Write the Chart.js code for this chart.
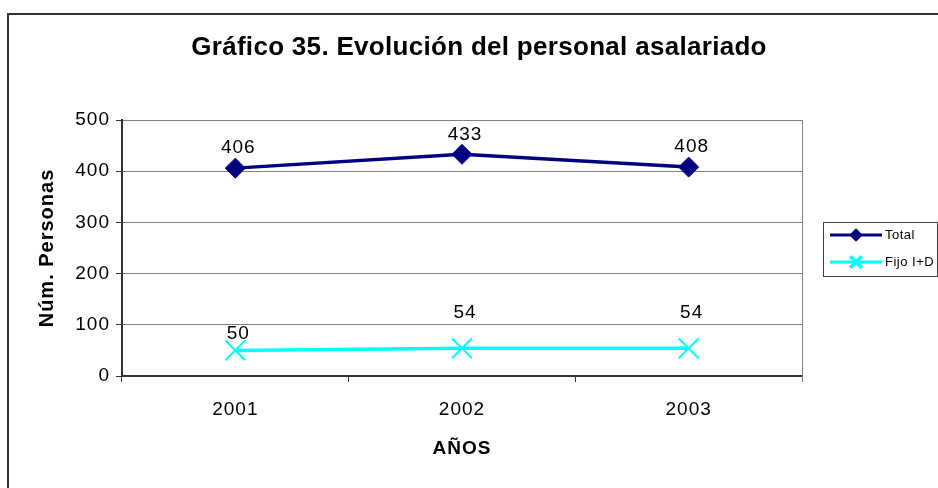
<!DOCTYPE html>
<html lang="es">
<head>
<meta charset="utf-8">
<title>Gráfico 35. Evolución del personal asalariado</title>
<script src="https://cdn.jsdelivr.net/npm/chart.js@4/dist/chart.umd.min.js"></script>
<style>
    html, body { margin: 0; padding: 0; background: #fff; }
    canvas { display: block; }
</style>
</head>
<body>
<canvas id="graficoPersonal" width="938" height="488"></canvas>
<script>
const anios = ['2001', '2002', '2003'];
const personalTotal = [406, 433, 408];
const personalFijoID = [50, 54, 54];
const ejeY = { min: 0, max: 500, paso: 100 };

const fuente = "'Liberation Sans', Arial, sans-serif";
const azulMarino = '#000080';
const cian = '#00FFFF';

// Excel-style text is a bit wider than the canvas default
const espaciado = {
    id: 'espaciado',
    beforeLayout(chart) { chart.ctx.letterSpacing = '1px'; },
    beforeDraw(chart) { chart.ctx.letterSpacing = '1px'; },
    beforeDatasetsDraw(chart) { chart.ctx.letterSpacing = '1px'; }
};

// Outer frame and title
const marco = {
    id: 'marco',
    beforeDraw(chart) {
        const ctx = chart.ctx;
        ctx.save();
        ctx.fillStyle = '#fff';
        ctx.fillRect(0, 0, chart.width, chart.height);
        ctx.strokeStyle = '#333';
        ctx.lineWidth = 2;
        ctx.strokeRect(8, 14, chart.width + 10, chart.height + 10);
        ctx.restore();
    },
    afterDraw(chart) {
        const ctx = chart.ctx;
        ctx.save();
        ctx.letterSpacing = '0.3px';
        ctx.font = 'bold 26px ' + fuente;
        ctx.fillStyle = '#000';
        ctx.textAlign = 'center';
        ctx.textBaseline = 'middle';
        ctx.fillText('Gráfico 35. Evolución del personal asalariado', 479, 48);
        ctx.restore();
    }
};

// Right edge of the plot area
const bordeDerecho = {
    id: 'bordeDerecho',
    beforeDatasetsDraw(chart) {
        const { ctx, chartArea } = chart;
        ctx.save();
        ctx.strokeStyle = '#808080';
        ctx.lineWidth = 1;
        ctx.beginPath();
        ctx.moveTo(chartArea.right + 0.5, chartArea.top);
        ctx.lineTo(chartArea.right + 0.5, chartArea.bottom + 6);
        ctx.stroke();
        ctx.restore();
    }
};

// Value labels above each point
const etiquetas = {
    id: 'etiquetas',
    afterDatasetsDraw(chart) {
        const ctx = chart.ctx;
        ctx.save();
        ctx.letterSpacing = '1px';
        ctx.font = '19px ' + fuente;
        ctx.fillStyle = '#000';
        ctx.textAlign = 'center';
        ctx.textBaseline = 'middle';
        chart.data.datasets.forEach((ds, i) => {
            const meta = chart.getDatasetMeta(i);
            meta.data.forEach((pt, j) => {
                const off = Array.isArray(ds.desplazamiento) ? ds.desplazamiento[j] : ds.desplazamiento;
                ctx.fillText(String(ds.data[j]), pt.x + 3, pt.y - off);
            });
        });
        ctx.restore();
    }
};

// Boxed legend on the right
const leyenda = {
    id: 'leyenda',
    afterDraw(chart) {
        const { ctx, chartArea } = chart;
        const x0 = chartArea.right + 21;
        const y0 = 222;
        ctx.save();
        ctx.strokeStyle = '#404040';
        ctx.lineWidth = 1;
        ctx.strokeRect(x0 + 0.5, y0 + 0.5, 114, 54);
        chart.data.datasets.forEach((ds, i) => {
            const y = y0 + 13 + i * 27;
            ctx.strokeStyle = ds.borderColor;
            ctx.lineWidth = 3;
            ctx.beginPath();
            ctx.moveTo(x0 + 7, y);
            ctx.lineTo(x0 + 59, y);
            ctx.stroke();
            Chart.helpers.drawPoint(ctx, {
                pointStyle: ds.pointStyle,
                radius: ds.leyendaRadio,
                borderWidth: ds.pointBorderWidth,
                rotation: 0
            }, x0 + 33, y);
            ctx.fillStyle = ds.pointBackgroundColor;
            ctx.strokeStyle = ds.pointBorderColor;
            ctx.fill();
            ctx.stroke();
            ctx.letterSpacing = '0.5px';
            ctx.font = '13px ' + fuente;
            ctx.fillStyle = '#000';
            ctx.textAlign = 'left';
            ctx.textBaseline = 'middle';
            ctx.fillText(ds.label, x0 + 62, y);
        });
        ctx.restore();
    }
};

new Chart(document.getElementById('graficoPersonal'), {
    type: 'line',
    data: {
        labels: anios,
        datasets: [{
            label: 'Total',
            data: personalTotal,
            borderColor: azulMarino,
            borderWidth: 3.5,
            pointStyle: 'rectRot',
            pointRadius: 10,
            pointBorderWidth: 1,
            pointBackgroundColor: azulMarino,
            pointBorderColor: azulMarino,
            leyendaRadio: 4.5,
            desplazamiento: 20,
            tension: 0
        }, {
            label: 'Fijo I+D',
            data: personalFijoID,
            borderColor: cian,
            borderWidth: 3.5,
            pointStyle: 'crossRot',
            pointRadius: 14,
            pointBorderWidth: 2,
            pointBackgroundColor: cian,
            pointBorderColor: cian,
            leyendaRadio: 8,
            desplazamiento: [17, 36, 36],
            tension: 0
        }]
    },
    options: {
        responsive: false,
        devicePixelRatio: 1,
        animation: false,
        layout: { padding: { left: 0, top: 120, right: 136, bottom: 0 } },
        plugins: {
            legend: { display: false },
            title: { display: false },
            tooltip: { enabled: false }
        },
        scales: {
            x: {
                offset: true,
                grid: { offset: true, drawOnChartArea: false, tickColor: '#333', tickLength: 6 },
                border: { color: '#333', width: 2 },
                ticks: { color: '#000', font: { family: fuente, size: 19 }, padding: 16, maxRotation: 0 },
                title: {
                    display: true, text: 'AÑOS', color: '#000',
                    font: { family: fuente, size: 19, weight: 'bold' }, padding: 28
                },
                afterFit(s) { s.height = 112; }
            },
            y: {
                min: ejeY.min,
                max: ejeY.max,
                ticks: { stepSize: ejeY.paso, color: '#000', font: { family: fuente, size: 19 }, padding: 6 },
                grid: { color: '#808080', tickColor: '#333', tickLength: 6, lineWidth: 1 },
                border: { color: '#333', width: 2 },
                title: {
                    display: true, text: 'Núm. Personas', color: '#000',
                    font: { family: fuente, size: 20, weight: 'bold' }, padding: 35
                },
                afterFit(s) { s.width = 122; }
            }
        }
    },
    plugins: [espaciado, marco, bordeDerecho, etiquetas, leyenda]
});
</script>
</body>
</html>
